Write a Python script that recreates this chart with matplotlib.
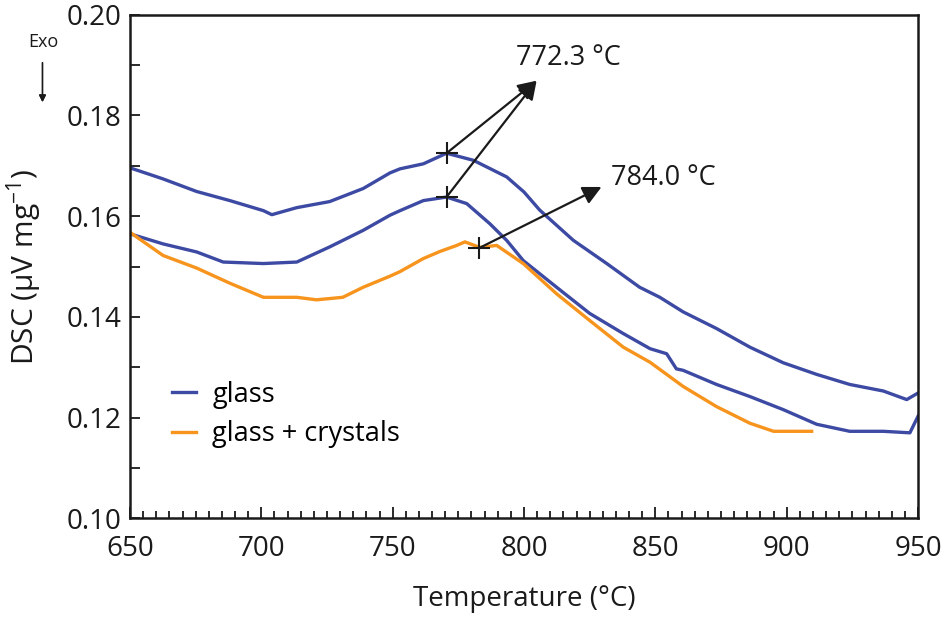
import matplotlib.pyplot as plt
from matplotlib.ticker import MultipleLocator, FormatStrFormatter

plt.rcParams['font.family'] = ['Open Sans', 'DejaVu Sans']
plt.rcParams['mathtext.fontset'] = 'custom'
plt.rcParams['mathtext.rm'] = 'Open Sans'
plt.rcParams['mathtext.it'] = 'Open Sans'

# glass, first run (upper blue)
t_glass1 = [650, 662.6, 675.4, 688, 700.8, 704, 713.5, 726, 738.8, 749, 752.8, 761.7, 770.5,
            780.7, 793.4, 800, 806, 818.8, 831.5, 844, 851.7, 860.6, 873.3, 886, 898.7,
            911.4, 924, 936.8, 945.7, 950]
dsc_glass1 = [0.1696, 0.1674, 0.1649, 0.1631, 0.1611, 0.1603, 0.1617, 0.1629, 0.1655, 0.1686,
              0.1694, 0.1704, 0.1725, 0.1711, 0.1678, 0.1648, 0.1612, 0.1552, 0.1506, 0.1459,
              0.1439, 0.1410, 0.1377, 0.1340, 0.1309, 0.1286, 0.1266, 0.1253, 0.1236, 0.1249]

# glass, second run (middle blue)
t_glass2 = [650, 662.6, 675.4, 685.5, 700.8, 713.5, 726, 738.8, 749, 752.8, 761.7, 770.5, 778.2,
            787, 793.4, 799.7, 812.4, 825, 837.8, 848, 854.3, 858, 860.6, 873.3, 886, 898.7,
            911.4, 924, 936.8, 946.9, 950]
dsc_glass2 = [0.1565, 0.1545, 0.1529, 0.1509, 0.1506, 0.1509, 0.1539, 0.1572, 0.1602, 0.1611,
              0.1631, 0.1638, 0.1625, 0.1585, 0.1552, 0.1512, 0.1459, 0.1407, 0.1367, 0.1337,
              0.1327, 0.1297, 0.1294, 0.1266, 0.1242, 0.1216, 0.1187, 0.1173, 0.1173, 0.1170,
              0.1203]

# glass + crystals (orange)
t_cryst = [650, 662.6, 675.4, 688, 700.8, 713.5, 721, 731, 738.8, 749, 752.8, 761.7, 768,
           774.4, 777.5, 783.2, 789.6, 799.7, 812.4, 825, 837.8, 848, 860.6, 873.3, 886, 895,
           909.5]
dsc_cryst = [0.1568, 0.1522, 0.1497, 0.1467, 0.1439, 0.1439, 0.1434, 0.1439, 0.1459, 0.1481,
             0.1490, 0.1516, 0.1530, 0.1542, 0.1549, 0.1538, 0.1542, 0.1506, 0.1446, 0.1393,
             0.1340, 0.1310, 0.1262, 0.1222, 0.1189, 0.1173, 0.1173]

# peak markers and labels
peak_t = [770.5, 770.5, 783]
peak_dsc = [0.1725, 0.1638, 0.1537]
tip_772 = (804.8, 0.1869)
tip_784 = (829.5, 0.1658)

blue = '#3d4aa3'
orange = '#f7941d'

fig = plt.figure(figsize=(9.44, 6.17), dpi=100)
ax = fig.add_axes([0.1377, 0.1597, 0.8348, 0.8165])

ax.plot(t_glass1, dsc_glass1, color=blue, lw=2.4, label='glass')
ax.plot(t_glass2, dsc_glass2, color=blue, lw=2.4)
ax.plot(t_cryst, dsc_cryst, color=orange, lw=2.4, label='glass + crystals')

ax.plot(peak_t, peak_dsc, '+', color='#1a1a1a', ms=16, mew=1.5, zorder=5)

arrow = dict(arrowstyle='-|>', color='#1a1a1a', lw=1.6, mutation_scale=28, shrinkA=0, shrinkB=0)
ax.annotate('', xy=tip_772, xytext=(peak_t[0], peak_dsc[0]), arrowprops=arrow)
ax.annotate('', xy=tip_772, xytext=(peak_t[1], peak_dsc[1]), arrowprops=arrow)
ax.annotate('', xy=tip_784, xytext=(peak_t[2], peak_dsc[2]), arrowprops=arrow)
ax.text(797, 0.1915, '772.3 °C', fontsize=19.5, va='center', ha='left', color='#1a1a1a')
ax.text(833, 0.1676, '784.0 °C', fontsize=19.5, va='center', ha='left', color='#1a1a1a')

ax.set_xlim(650, 950)
ax.set_ylim(0.10, 0.20)
ax.xaxis.set_major_locator(MultipleLocator(50))
ax.xaxis.set_minor_locator(MultipleLocator(5))
ax.yaxis.set_major_locator(MultipleLocator(0.02))
ax.yaxis.set_minor_locator(MultipleLocator(0.01))
ax.yaxis.set_major_formatter(FormatStrFormatter('%.2f'))
ax.tick_params(which='both', direction='in', labelsize=20, colors='#1a1a1a', width=1.3)
ax.tick_params(axis='x', which='major', length=8, pad=12)
ax.tick_params(axis='x', which='minor', length=5)
ax.tick_params(axis='y', which='both', length=7, pad=6)
for s in ax.spines.values():
    s.set_linewidth(1.8)
    s.set_color('#1a1a1a')

ax.set_xlabel('Temperature (°C)', fontsize=20, labelpad=16, color='#1a1a1a')
ax.set_ylabel('DSC (μV mg$^{-1}$)', fontsize=21.5, labelpad=16, color='#1a1a1a')

ax.legend(loc='upper left', bbox_to_anchor=(0.022, 0.322), frameon=False, fontsize=19.5,
          handlelength=0.9, handletextpad=0.6, labelspacing=0.42)

fig.text(0.046, 0.932, 'Exo', fontsize=13, ha='center', va='center', color='#1a1a1a')
fig.add_artist(plt.annotate('', xy=(0.045, 0.830), xytext=(0.045, 0.903), xycoords='figure fraction',
                            arrowprops=dict(arrowstyle='-|>', color='#1a1a1a', lw=1.0, mutation_scale=10)))

fig.savefig('out.png', dpi=100)
